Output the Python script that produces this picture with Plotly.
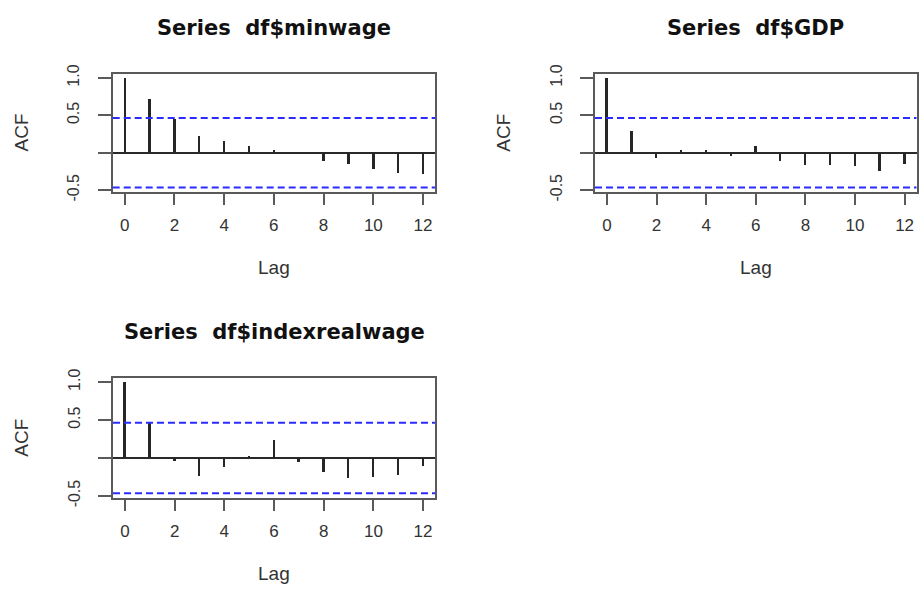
import plotly.graph_objects as go

# Autocorrelation estimates for lags 0..12 of each series
LAGS = list(range(13))
ACF_MINWAGE = [1.00, 0.73, 0.46, 0.23, 0.16, 0.09, 0.04, -0.01, -0.10, -0.15, -0.21, -0.26, -0.28]
ACF_GDP = [1.00, 0.30, -0.06, 0.04, 0.04, -0.04, 0.10, -0.11, -0.16, -0.16, -0.17, -0.24, -0.15]
ACF_INDEXREALWAGE = [1.00, 0.46, -0.03, -0.23, -0.11, 0.03, 0.24, -0.05, -0.18, -0.26, -0.25, -0.22, -0.10]
SERIES_NAMES = ["df$minwage", "df$GDP", "df$indexrealwage"]
CONF_BOUND = 0.465  # approximate 95% white-noise band

X_TICKS = [0, 2, 4, 6, 8, 10, 12]
Y_TICKS = [-0.5, 0.0, 0.5, 1.0]
Y_TICK_TEXT = ["-0.5", "", "0.5", "1.0"]

W, H = 921, 591
# plot boxes in pixels: left, right, top, bottom
BOXES = [(112.7, 435.0, 66.7, 189.0),
         (595.0, 916.5, 66.7, 189.0),
         (113.0, 435.0, 381.0, 505.0)]

SERIES = [ACF_MINWAGE, ACF_GDP, ACF_INDEXREALWAGE]

BOX_COLOR = "#5a5a5a"
TEXT_COLOR = "#333333"
FONT = "Liberation Sans, Arial, sans-serif"


def padded_range(lo, hi, frac=0.04):
    span = hi - lo
    return [lo - frac * span, hi + frac * span]


fig = go.Figure()
annotations = []
shapes = []

for i, (name, acf, box) in enumerate(zip(SERIES_NAMES, SERIES, BOXES)):
    k = "" if i == 0 else str(i + 1)
    xa, ya = "x" + k, "y" + k
    left, right, top, bottom = box

    fig.add_trace(go.Bar(
        x=LAGS, y=acf, width=0.075, xaxis=xa, yaxis=ya,
        marker=dict(color="#262626", line=dict(width=0)),
        showlegend=False, hoverinfo="x+y",
    ))

    ylo = min(-CONF_BOUND, min(acf))
    yhi = max(CONF_BOUND, max(acf))

    fig.layout["xaxis" + k] = dict(
        domain=[left / W, right / W], anchor=ya,
        range=padded_range(min(LAGS), max(LAGS)),
        tickvals=X_TICKS, ticks="outside", ticklen=11, tickwidth=2, tickcolor=BOX_COLOR,
        showline=True, linecolor=BOX_COLOR, linewidth=2, mirror=True,
        showgrid=False, zeroline=False, ticklabelstandoff=6,
        tickfont=dict(family=FONT, size=17, color=TEXT_COLOR),
        fixedrange=True,
    )
    fig.layout["yaxis" + k] = dict(
        domain=[1 - bottom / H, 1 - top / H], anchor=xa,
        range=padded_range(ylo, yhi),
        tickvals=Y_TICKS, ticktext=Y_TICK_TEXT, tickangle=-90,
        ticks="outside", ticklen=13, tickwidth=2, tickcolor=BOX_COLOR,
        showline=True, linecolor=BOX_COLOR, linewidth=2, mirror=True,
        showgrid=False, zeroline=True, zerolinecolor="#2a2a2a", zerolinewidth=2,
        ticklabelstandoff=12,
        tickfont=dict(family=FONT, size=16, color=TEXT_COLOR),
        fixedrange=True,
    )

    # confidence band lines
    for b in (CONF_BOUND, -CONF_BOUND):
        shapes.append(dict(
            type="line", xref=xa + " domain", yref=ya,
            x0=0, x1=1, y0=b, y1=b,
            line=dict(color="#2b2bff", width=2, dash="7px,4px"),
        ))

    cx = (left + right) / 2
    cy = (top + bottom) / 2
    annotations.append(dict(
        text="<b>Series\u00a0 " + name + "</b>", xref="paper", yref="paper",
        x=cx / W, y=1 - (top - 47) / H, xanchor="center", yanchor="middle",
        showarrow=False, font=dict(family="DejaVu Sans, sans-serif", size=21, color="#111111"),
    ))
    annotations.append(dict(
        text="Lag", xref="paper", yref="paper",
        x=cx / W, y=1 - (bottom + 78) / H, xanchor="center", yanchor="middle",
        showarrow=False, font=dict(family=FONT, size=19, color=TEXT_COLOR),
    ))
    annotations.append(dict(
        text="ACF", xref="paper", yref="paper", textangle=-90,
        x=(left - 91) / W, y=1 - cy / H, xanchor="center", yanchor="middle",
        showarrow=False, font=dict(family=FONT, size=19, color=TEXT_COLOR),
    ))

fig.update_layout(
    width=W, height=H,
    margin=dict(l=0, r=0, t=0, b=0),
    paper_bgcolor="white", plot_bgcolor="white",
    annotations=annotations, shapes=shapes,
    bargap=0,
)

fig.write_html("out.html", config={"displayModeBar": False})
